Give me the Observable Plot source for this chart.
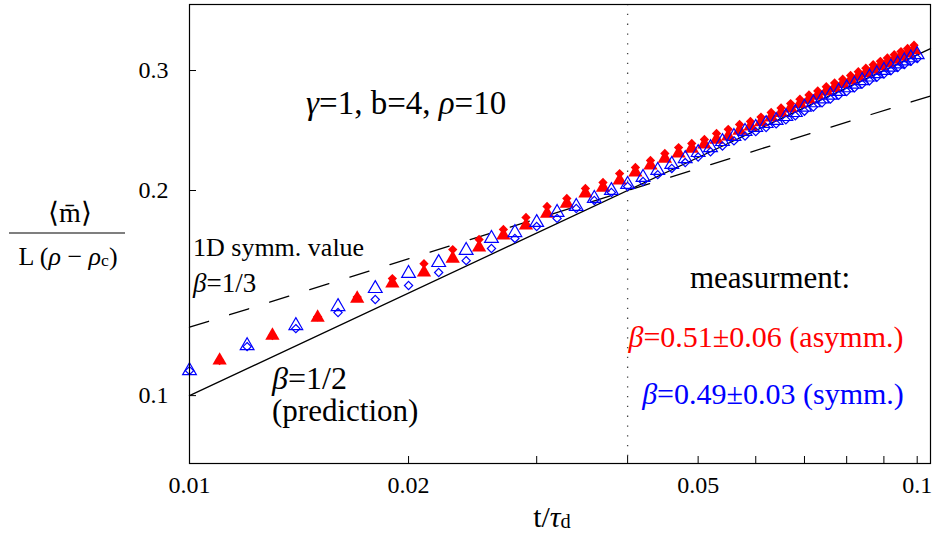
<!DOCTYPE html>
<html>
<head>
<meta charset="utf-8">
<script src="https://cdn.jsdelivr.net/npm/d3@7"></script>
<script src="https://cdn.jsdelivr.net/npm/@observablehq/plot@0.6"></script>
<style>
  html, body { margin: 0; padding: 0; background: #fff; }
  #chart svg { display: block; }
</style>
</head>
<body>
<div id="chart"></div>
<script>
// ---- data ----
const tSymm = [0.010,0.012,0.014,0.016,0.018,0.020,0.022,0.024,0.026,0.028,0.030,0.032,0.034,0.036,0.038,0.040,0.042,0.044,0.046,0.048,0.050,0.052,0.054,0.056,0.058,0.060,0.062,0.064,0.066,0.068,0.070,0.072,0.074,0.076,0.078,0.080,0.082,0.084,0.086,0.088,0.090,0.092,0.094,0.096,0.098,0.100];
const symmTriangle = [0.1088,0.1184,0.1267,0.1351,0.1436,0.1511,0.1568,0.1633,0.1701,0.1735,0.1795,0.1857,0.1895,0.1947,0.2000,0.2041,0.2090,0.2140,0.2184,0.2228,0.2274,0.2312,0.2360,0.2401,0.2442,0.2475,0.2508,0.2534,0.2568,0.2603,0.2650,0.2690,0.2725,0.2760,0.2795,0.2830,0.2865,0.2900,0.2935,0.2968,0.3002,0.3035,0.3068,0.3100,0.3132,0.3165];
const symmDiamond = [0.1088,0.1180,0.1254,0.1324,0.1384,0.1451,0.1516,0.1578,0.1644,0.1701,0.1771,0.1820,0.1882,0.1934,0.1987,0.2027,0.2062,0.2110,0.2155,0.2198,0.2240,0.2280,0.2325,0.2365,0.2405,0.2440,0.2475,0.2505,0.2540,0.2575,0.2615,0.2652,0.2690,0.2725,0.2760,0.2795,0.2830,0.2865,0.2898,0.2932,0.2965,0.2998,0.3030,0.3062,0.3094,0.3125];

const tAsymm = [0.011,0.013,0.015,0.017,0.019,0.021,0.023,0.025,0.027,0.029,0.031,0.033,0.035,0.037,0.039,0.041,0.043,0.045,0.047,0.049,0.051,0.053,0.055,0.057,0.059,0.061,0.063,0.065,0.067,0.069,0.071,0.073,0.075,0.077,0.079,0.081,0.083,0.085,0.087,0.089,0.091,0.093,0.095,0.097,0.099];
const asymmTriangle = [0.1126,0.1225,0.1302,0.1388,0.1461,0.1516,0.1589,0.1650,0.1718,0.1777,0.1850,0.1914,0.1980,0.2020,0.2069,0.2126,0.2177,0.2228,0.2267,0.2305,0.2337,0.2376,0.2401,0.2449,0.2483,0.2520,0.2560,0.2600,0.2640,0.2680,0.2718,0.2755,0.2795,0.2830,0.2868,0.2903,0.2940,0.2975,0.3010,0.3045,0.3078,0.3112,0.3145,0.3180,0.3215];
const asymmDiamond = [0.1126,0.1225,0.1305,0.1395,0.1485,0.1562,0.1638,0.1695,0.1753,0.1826,0.1895,0.1947,0.2014,0.2055,0.2118,0.2162,0.2214,0.2267,0.2312,0.2345,0.2376,0.2425,0.2459,0.2500,0.2526,0.2563,0.2603,0.2643,0.2683,0.2723,0.2762,0.2800,0.2840,0.2876,0.2914,0.2950,0.2988,0.3024,0.3060,0.3095,0.3130,0.3165,0.3198,0.3233,0.3268];

// reference lines (end points over the plotted range)
const lineT = [0.01, 0.1043];
const prediction = [0.1, 0.3230];      // beta = 1/2
const oneD = [0.1260, 0.2753];         // beta = 1/3
const crossoverT = [0.04];

// axes
const xTickLabels = [0.01, 0.02, 0.05, 0.1];
const xTickMarks = [0.02, 0.03, 0.04, 0.05, 0.06, 0.07, 0.08, 0.09, 0.1];
const yTickLabels = [0.1, 0.2, 0.3];

// ---- build ----
const zip = (xs, ys) => xs.map((x, i) => ({x, y: ys[i]}));
const serif = "'Liberation Serif', 'Times New Roman', serif";

const plot = Plot.plot({
  width: 933,
  height: 536,
  marginLeft: 189,
  marginRight: 3,
  marginTop: 4,
  marginBottom: 73,
  style: {fontFamily: serif, background: "white"},
  x: {type: "log", domain: [0.01, 0.1043], axis: null},
  y: {type: "log", domain: [0.0795, 0.375], axis: null},
  marks: [
    Plot.ruleX(crossoverT, {stroke: "#444", strokeWidth: 1.3, strokeDasharray: "1.3,8.5"}),
    Plot.line(zip(lineT, prediction), {x: "x", y: "y", stroke: "black", strokeWidth: 1.3}),
    Plot.line(zip(lineT, oneD), {x: "x", y: "y", stroke: "black", strokeWidth: 1.3, strokeDasharray: "20,22"}),
    Plot.dot(zip(tAsymm, asymmTriangle), {x: "x", y: "y", symbol: "triangle", r: 5.3, fill: "#ff0000", stroke: "none"}),
    Plot.dot(zip(tAsymm, asymmDiamond), {x: "x", y: "y", symbol: "diamond2", r: 4.2, fill: "#ff0000", stroke: "none"}),
    Plot.dot(zip(tSymm, symmTriangle), {x: "x", y: "y", symbol: "triangle", r: 5.1, fill: "none", stroke: "#0000ff", strokeWidth: 1.2}),
    Plot.dot(zip(tSymm, symmDiamond), {x: "x", y: "y", symbol: "diamond2", r: 3.7, fill: "none", stroke: "#0000ff", strokeWidth: 1.2}),
    Plot.tickX(xTickMarks, {x: d => d, insetTop: 452, stroke: "black"}),
    Plot.tickY(yTickLabels, {y: d => d, insetRight: 734, stroke: "black"}),
    Plot.frame({stroke: "black", strokeWidth: 1.2}),
    Plot.text(xTickLabels, {x: d => d, text: d => String(d), frameAnchor: "bottom", dy: 29, fontSize: 24, fontFamily: serif, fill: "black"}),
    Plot.text(yTickLabels, {y: d => d, text: d => String(d), frameAnchor: "left", dx: -21, textAnchor: "end", fontSize: 24, fontFamily: serif, fill: "black"})
  ]
});

document.getElementById("chart").appendChild(plot);

// ---- text annotations ----
const svg = d3.select(plot);
function label(x, y, parts, opts = {}) {
  const size = opts.size || 28;
  const t = svg.append("text")
    .attr("x", x).attr("y", y)
    .attr("dominant-baseline", "central")
    .attr("text-anchor", opts.anchor || "start")
    .attr("font-family", serif)
    .attr("font-size", size)
    .attr("fill", opts.fill || "black");
  for (const p of parts) {
    const s = t.append("tspan").text(p.t);
    if (p.i) s.attr("font-style", "italic");
    if (p.sub) s.attr("font-size", size * 0.68).attr("baseline-shift", "-0.25em");
  }
  return t;
}

label(306, 103, [{t: "γ", i: true}, {t: "=1, b=4, "}, {t: "ρ", i: true}, {t: "=10"}], {size: 33});
label(193, 247, [{t: "1D symm. value"}], {size: 26});
label(193, 283, [{t: "β", i: true}, {t: "=1/3"}], {size: 27});
label(272, 378, [{t: "β", i: true}, {t: "=1/2"}], {size: 32});
label(272, 410, [{t: "(prediction)"}], {size: 31});
label(770, 277, [{t: "measurment:"}], {size: 31, anchor: "middle"});
label(766, 336, [{t: "β", i: true}, {t: "=0.51±0.06 (asymm.)"}], {size: 30, anchor: "middle", fill: "#ff0000"});
label(773, 393, [{t: "β", i: true}, {t: "=0.49±0.03 (symm.)"}], {size: 30, anchor: "middle", fill: "#0000ff"});

// axis labels
label(552, 516, [{t: "t/"}, {t: "τ", i: true}, {t: "d", sub: true}], {size: 30, anchor: "middle"});
label(70, 212, [{t: "⟨m̄⟩"}], {size: 28, anchor: "middle"});
svg.append("line").attr("x1", 9).attr("x2", 125).attr("y1", 233).attr("y2", 233)
  .attr("stroke", "black").attr("stroke-width", 1.2);
label(68, 256, [{t: "L ("}, {t: "ρ", i: true}, {t: " − "}, {t: "ρ", i: true}, {t: "c", sub: true}, {t: ")"}], {size: 26, anchor: "middle"});
</script>
</body>
</html>
